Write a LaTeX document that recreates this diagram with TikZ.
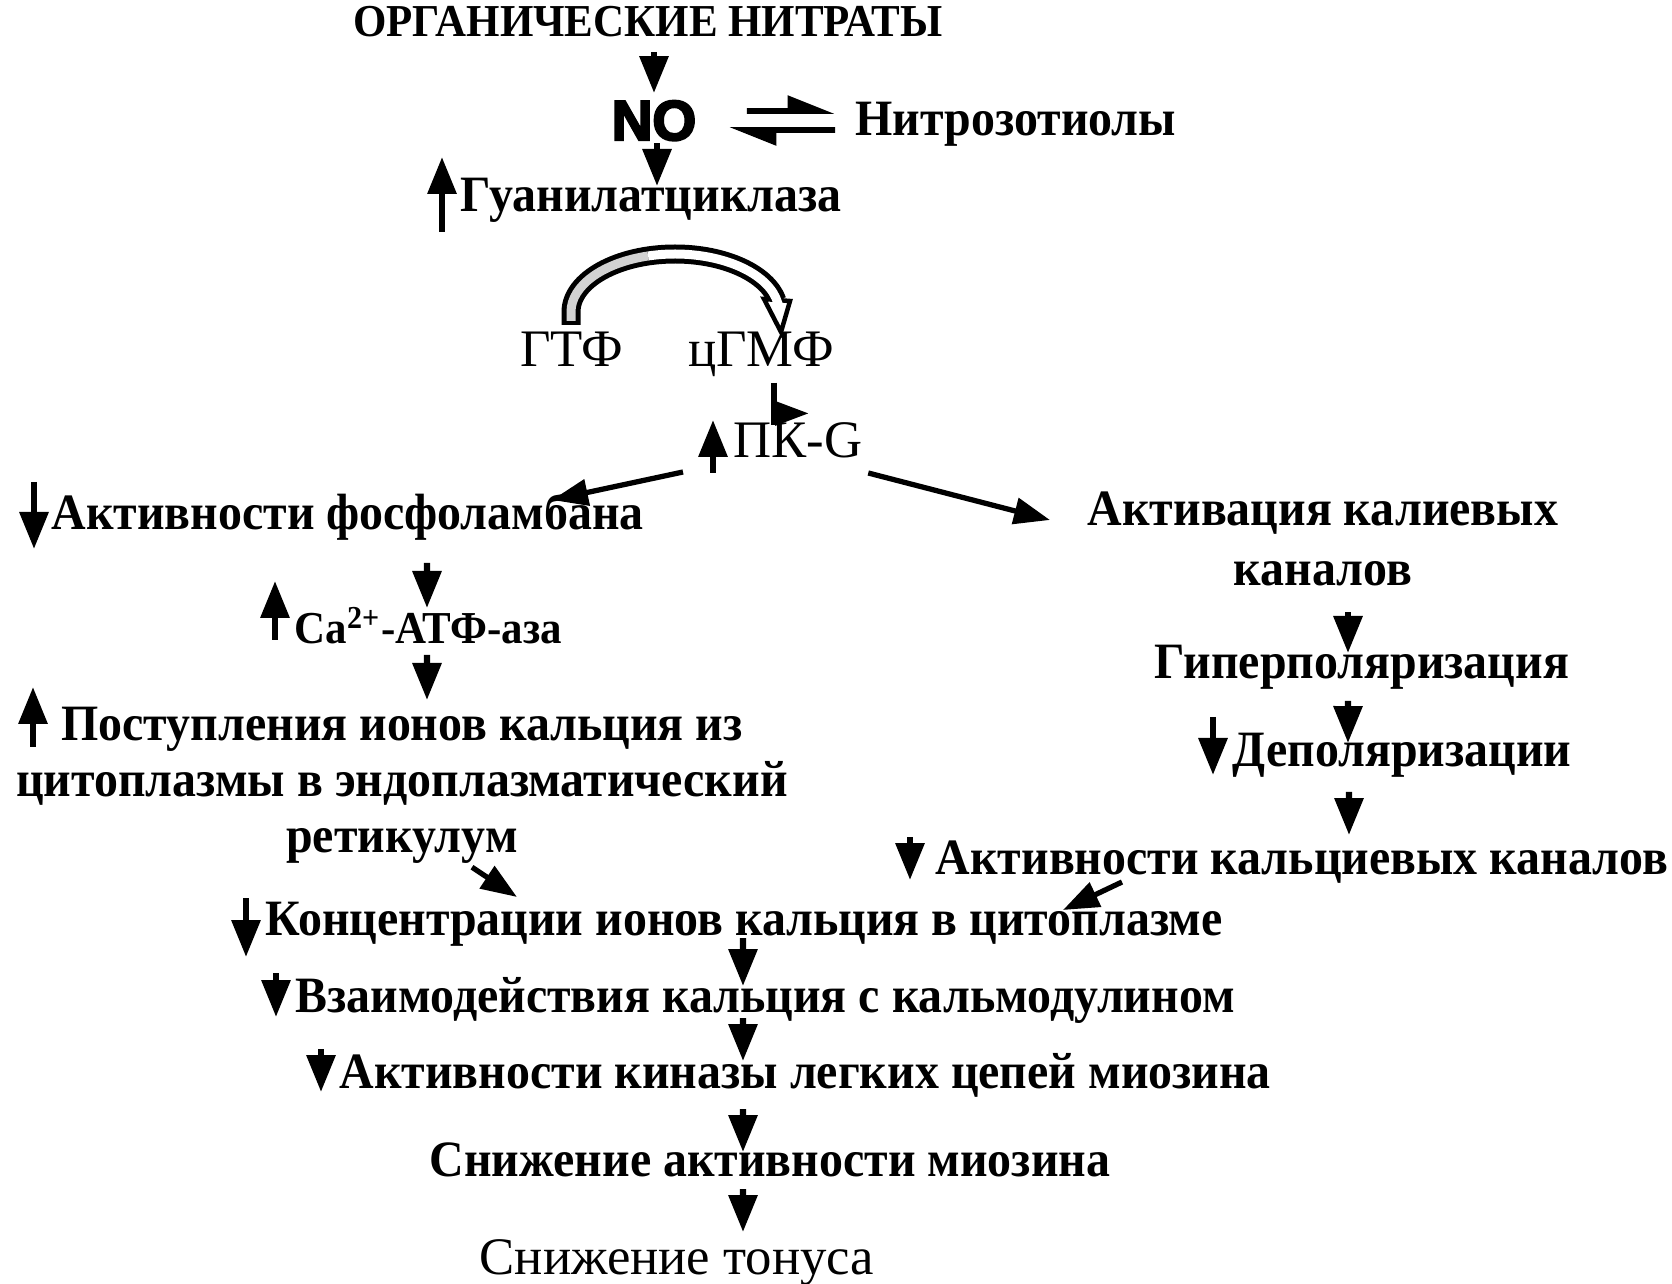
\documentclass[tikz,border=0pt]{standalone}
\usepackage{fontspec}
\setmainfont{Liberation Serif}
\newfontfamily\bfont[FakeStretch=0.94]{Liberation Serif Bold}
\newfontfamily\heavyfont[FakeBold=4]{Liberation Sans Bold}
\usetikzlibrary{arrows.meta}

\tikzset{
  txt/.style={inner sep=0pt, font=\bfont\fontsize{14.5}{17}\selectfont},
  plain/.style={inner sep=0pt, font=\fontsize{15}{18}\selectfont},
  flow/.style={line width=1.8pt, -{Triangle[length=3.7mm,width=2.8mm]}},
  ind/.style={flow},
  diag/.style={line width=1.5pt, -{Triangle[length=3.6mm,width=2.6mm]}},
  harp/.style={line width=1.6pt, -{Triangle[left,length=4mm,width=3mm]}},
}

\begin{document}
\begin{tikzpicture}[x=0.1mm, y=-0.1mm]
    \useasboundingbox (0,0) rectangle (1672,1284);

    % Top of the chain
    \node[txt, font=\bfont\fontsize{13}{15}\selectfont, anchor=base] (org) at (648,37) {ОРГАНИЧЕСКИЕ НИТРАТЫ};
    \node[anchor=base, inner sep=0pt, font=\heavyfont\fontsize{16}{18}\selectfont] (no) at (654,140) {NO};
    \node[txt, anchor=base west] (nitro) at (855,136) {Нитрозотиолы};
    \node[txt, anchor=base west] (gc) at (460,212) {Гуанилатциклаза};
    \draw[flow] ([yshift=-1.5mm]org.base -| no.north) -- ([yshift=0.7mm]no.north);
    \draw[flow] ([xshift=0.3mm,yshift=-0.2mm]no.south) -- ([xshift=0.3mm,yshift=2.6mm]no.south |- gc.base);
    \draw[harp] ([xshift=5mm,yshift=2.9mm]no.base east) -- ([xshift=-2mm,yshift=2.5mm]nitro.base west);
    \draw[harp] ([xshift=-2mm,yshift=0.6mm]nitro.base west) -- ([xshift=3.2mm,yshift=1mm]no.base east);
    \draw[ind] ([xshift=-1.8mm,yshift=-2mm]gc.base west) -- ++(0,7.5mm);

    % GTP -> cGMP
    \node[plain, anchor=base] (gtf) at (572,367) {ГТФ};
    \node[plain, anchor=base] (cgmf) at (761,367) {цГМФ};
    \coordinate (ctr) at (675,312);
    \draw[line width=1.9mm] (571,325) -- (571,312) arc[start angle=180, end angle=11, x radius=10.4mm, y radius=5.8mm];
    \filldraw[fill=white, line width=0.45mm] (764,299) -- (790,301) -- (781,332) -- cycle;
    \draw[line width=0.9mm, gray!35] (571,321) -- (571,312) arc[start angle=180, end angle=105, x radius=10.4mm, y radius=5.8mm];
    \draw[line width=0.9mm, white] ([shift={(105:10.4mm and 5.8mm)}]ctr) arc[start angle=105, end angle=4, x radius=10.4mm, y radius=5.8mm];

    % Protein kinase G
    \node[plain, anchor=base west] (pkg) at (733,458) {ПК-G};
    \draw[line width=1.8pt] ([xshift=1.3mm,yshift=-1.6mm]cgmf.base) -- ++(0,-4.2mm);
    \draw[flow, -{Triangle[length=3.4mm,width=2.3mm]}] ([xshift=1.3mm,yshift=-1.6mm]cgmf.base) |- ([xshift=1.1mm,yshift=0.9mm]pkg.north);
    \draw[ind] ([xshift=-2mm,yshift=-1.5mm]pkg.base west) -- ++(0,5.3mm);

    % Left branch
    \node[txt, anchor=base west] (phos) at (51,530) {Активности фосфоламбана};
    \node[txt, anchor=base west, font=\bfont\fontsize{13}{15}\selectfont] (atp) at (294,644) {Ca\textsuperscript{2+}-АТФ-аза};
    \node[txt, anchor=north, align=center, font=\bfont\fontsize{14.5}{16}\selectfont] (post) at (402,706)
        {Поступления ионов кальция из\\цитоплазмы в эндоплазматический\\ретикулум};
    \draw[diag] ([xshift=-5mm,yshift=-1.4mm]pkg.base west) -- ([xshift=50.1mm,yshift=3mm]phos.base west);
    \draw[ind] ([xshift=-1.7mm,yshift=4.8mm]phos.base west) -- ++(0,-6.7mm);
    \draw[flow] ([xshift=37.6mm,yshift=-3.3mm]phos.base west) -- ([xshift=13.3mm,yshift=3.6mm]atp.base west);
    \draw[ind] ([xshift=-1.9mm,yshift=0.4mm]atp.base west) -- ++(0,5.9mm);
    \draw[flow] ([xshift=13.3mm,yshift=-1.1mm]atp.base west) -- ([xshift=2.5mm,yshift=0.6mm]post.north);
    \draw[ind] ([xshift=-36.9mm,yshift=-4.1mm]post.north) -- ++(0,6mm);

    % Right branch
    \node[txt, anchor=north, align=center, font=\bfont\fontsize{14.5}{17}\selectfont] (kact) at (1323,491)
        {Активация калиевых\\каналов};
    \node[txt, anchor=base] (hyper) at (1362,678) {Гиперполяризация};
    \node[txt, anchor=base west] (depol) at (1232,767) {Деполяризации};
    \node[txt, anchor=base west] (cach) at (935,875) {Активности кальциевых каналов};
    \draw[diag] ([xshift=0.5mm,yshift=-1.5mm]pkg.base east) -- ([xshift=-27.3mm,yshift=-2.9mm]kact.north);
    \draw[flow] ([xshift=2.5mm,yshift=-2.6mm]kact.south) -- ([xshift=-1.4mm,yshift=2.5mm]hyper.base);
    \draw[flow] ([xshift=-1.4mm,yshift=-2.3mm]hyper.base) -- ([xshift=11.6mm,yshift=2.4mm]depol.base west);
    \draw[ind] ([xshift=-1.9mm,yshift=5mm]depol.base west) -- ++(0,-5.8mm);
    \draw[flow] ([xshift=11.7mm,yshift=-2.5mm]depol.base west) -- ([xshift=41.4mm,yshift=4mm]cach.base west);
    \draw[ind] ([xshift=-2.5mm,yshift=3.8mm]cach.base west) -- ++(0,-4.3mm);

    % Common chain
    \node[txt, anchor=base west] (conc) at (265,935) {Концентрации ионов кальция в цитоплазме};
    \node[txt, anchor=base west] (vzaim) at (295,1012) {Взаимодействия кальция с кальмодулином};
    \node[txt, anchor=base west] (kin) at (339,1088) {Активности киназы легких цепей миозина};
    \node[txt, anchor=base] (myo) at (770,1176) {Снижение активности миозина};
    \node[plain, anchor=base] (tonus) at (677,1274) {Снижение тонуса};
    \draw[diag] ([xshift=7mm,yshift=-0.3mm]post.south) -- ([xshift=25.2mm,yshift=3.8mm]conc.base west);
    \draw[diag] ([xshift=18.7mm,yshift=-0.7mm]cach.base west) -- ([xshift=79.8mm,yshift=2.5mm]conc.base west);
    \draw[ind] ([xshift=-1.9mm,yshift=3.7mm]conc.base west) -- ++(0,-5.9mm);
    \draw[flow] ([xshift=47.8mm,yshift=-0.3mm]conc.base west) -- ([xshift=44.8mm,yshift=2.6mm]vzaim.base west);
    \draw[ind] ([xshift=-1.9mm,yshift=3.9mm]vzaim.base west) -- ++(0,-4.4mm);
    \draw[flow] ([xshift=44.8mm,yshift=-0.6mm]vzaim.base west) -- ([xshift=40.4mm,yshift=2.7mm]kin.base west);
    \draw[ind] ([xshift=-1.8mm,yshift=3.9mm]kin.base west) -- ++(0,-4.3mm);
    \draw[flow] ([xshift=40.4mm,yshift=-2.1mm]kin.base west) -- ([xshift=-2.7mm,yshift=2.4mm]myo.base);
    \draw[flow] ([xshift=-2.7mm,yshift=-1.3mm]myo.base) -- ([xshift=6.6mm,yshift=4.2mm]tonus.base);
\end{tikzpicture}
\end{document}
